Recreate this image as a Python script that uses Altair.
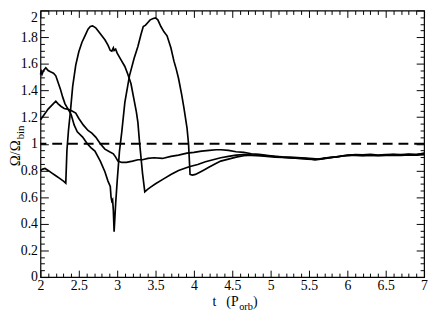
import altair as alt
import pandas as pd

# ---- data ----
T_A = [2.00, 2.03, 2.06, 2.10, 2.15, 2.20, 2.25, 2.30, 2.33, 2.345, 2.365, 2.39, 2.42, 2.46, 2.50, 2.54, 2.58, 2.62, 2.65, 2.68,
       2.72, 2.76, 2.80, 2.84, 2.88, 2.91, 2.93, 2.95, 2.96, 2.98, 3.00, 3.05, 3.10, 3.14, 3.18, 3.22, 3.25, 3.27, 3.29, 3.31,
       3.33, 3.36, 3.40, 3.45, 3.50, 3.60, 3.70, 3.80, 3.90, 3.95, 4.05, 4.15, 4.25, 4.35, 4.45, 4.55, 4.65, 4.75, 4.85, 4.95,
       5.06, 5.15, 5.25, 5.32, 5.40, 5.48, 5.55, 5.60, 5.68, 5.75, 5.83, 5.90, 5.97, 6.05, 6.12, 6.20, 6.30, 6.40, 6.50, 6.60,
       6.70, 6.80, 6.90, 7.00]
V_A = [0.80, 0.81, 0.815, 0.80, 0.78, 0.76, 0.74, 0.72, 0.705, 0.95, 1.10, 1.24, 1.43, 1.59, 1.69, 1.76, 1.81, 1.86, 1.88, 1.885,
       1.87, 1.84, 1.81, 1.78, 1.74, 1.70, 1.695, 1.72, 1.70, 1.71, 1.68, 1.63, 1.58, 1.52, 1.45, 1.33, 1.24, 1.16, 1.02, 0.90,
       0.78, 0.64, 0.66, 0.68, 0.70, 0.735, 0.77, 0.80, 0.82, 0.83, 0.845, 0.865, 0.88, 0.895, 0.905, 0.915, 0.918, 0.915, 0.91, 0.905,
       0.90, 0.897, 0.894, 0.892, 0.888, 0.885, 0.882, 0.884, 0.889, 0.895, 0.90, 0.905, 0.912, 0.917, 0.915, 0.913, 0.915, 0.912, 0.915, 0.918,
       0.915, 0.918, 0.92, 0.925]

T_B = [2.00, 2.01, 2.02, 2.04, 2.07, 2.10, 2.13, 2.17, 2.20, 2.23, 2.26, 2.29, 2.32, 2.36, 2.40, 2.44, 2.48, 2.55, 2.61, 2.66,
       2.71, 2.78, 2.84, 2.88, 2.91, 2.92, 2.93, 2.94, 2.95, 2.96, 2.98, 3.00, 3.03, 3.06, 3.10, 3.16, 3.22, 3.27, 3.31, 3.34,
       3.37, 3.40, 3.43, 3.47, 3.50, 3.53, 3.57, 3.61, 3.65, 3.70, 3.74, 3.77, 3.80, 3.84, 3.87, 3.91, 3.93, 3.95, 3.98, 4.02,
       4.07, 4.12, 4.20, 4.28, 4.35, 4.45, 4.55, 4.65, 4.75, 4.85, 4.95, 5.05, 5.15, 5.25, 5.35, 5.45, 5.52, 5.58, 5.65, 5.72,
       5.80, 5.88, 5.95, 6.03, 6.10, 6.20, 6.30, 6.40, 6.50, 6.60, 6.70, 6.80, 6.90, 7.00]
V_B = [1.52, 1.54, 1.52, 1.55, 1.57, 1.55, 1.54, 1.53, 1.51, 1.46, 1.41, 1.35, 1.30, 1.26, 1.22, 1.14, 1.09, 1.05, 1.00, 0.97,
       0.945, 0.87, 0.79, 0.72, 0.68, 0.60, 0.57, 0.58, 0.50, 0.34, 0.55, 0.72, 0.945, 1.09, 1.31, 1.51, 1.64, 1.73, 1.82, 1.88,
       1.89, 1.91, 1.93, 1.94, 1.945, 1.93, 1.88, 1.84, 1.81, 1.72, 1.62, 1.56, 1.49, 1.37, 1.27, 1.12, 1.00, 0.77, 0.765, 0.77,
       0.785, 0.80, 0.825, 0.85, 0.87, 0.885, 0.90, 0.91, 0.915, 0.913, 0.91, 0.905, 0.90, 0.895, 0.893, 0.89, 0.886, 0.879, 0.885, 0.89,
       0.897, 0.903, 0.908, 0.913, 0.919, 0.917, 0.92, 0.916, 0.918, 0.921, 0.918, 0.922, 0.918, 0.93]

T_C = [2.00, 2.05, 2.10, 2.15, 2.20, 2.23, 2.27, 2.31, 2.35, 2.40, 2.46, 2.50, 2.56, 2.62, 2.67, 2.72, 2.78, 2.84, 2.90, 2.95,
       2.98, 3.01, 3.06, 3.12, 3.20, 3.27, 3.33, 3.40, 3.48, 3.59, 3.70, 3.80, 3.91, 4.00, 4.10, 4.20, 4.29, 4.35, 4.45, 4.55,
       4.65, 4.75, 4.85, 4.95, 5.05, 5.15, 5.25, 5.35, 5.45, 5.55, 5.62, 5.70, 5.78, 5.86, 5.94, 6.02, 6.10, 6.20, 6.30, 6.40,
       6.50, 6.60, 6.70, 6.80, 6.90, 7.00]
V_C = [1.18, 1.22, 1.26, 1.29, 1.32, 1.30, 1.28, 1.265, 1.26, 1.25, 1.23, 1.19, 1.14, 1.10, 1.08, 1.05, 1.00, 0.96, 0.94, 0.925,
       0.90, 0.87, 0.86, 0.86, 0.87, 0.88, 0.88, 0.89, 0.895, 0.89, 0.905, 0.915, 0.93, 0.935, 0.945, 0.95, 0.955, 0.955, 0.95, 0.94,
       0.935, 0.925, 0.92, 0.914, 0.906, 0.902, 0.90, 0.896, 0.892, 0.888, 0.886, 0.892, 0.898, 0.902, 0.91, 0.915, 0.913, 0.911, 0.914, 0.91,
       0.913, 0.915, 0.912, 0.916, 0.914, 0.918]

REF_LEVEL = [1.0]

X_MAJOR = [2, 2.5, 3, 3.5, 4, 4.5, 5, 5.5, 6, 6.5, 7]
X_MINOR = [2.1, 2.2, 2.3, 2.4, 2.6, 2.7, 2.8, 2.9, 3.1, 3.2, 3.3, 3.4, 3.6, 3.7, 3.8, 3.9,
           4.1, 4.2, 4.3, 4.4, 4.6, 4.7, 4.8, 4.9, 5.1, 5.2, 5.3, 5.4, 5.6, 5.7, 5.8, 5.9,
           6.1, 6.2, 6.3, 6.4, 6.6, 6.7, 6.8, 6.9]
Y_MAJOR = [0, 0.2, 0.4, 0.6, 0.8, 1, 1.2, 1.4, 1.6, 1.8, 2]
Y_MINOR = [0.05, 0.1, 0.15, 0.25, 0.3, 0.35, 0.45, 0.5, 0.55, 0.65, 0.7, 0.75, 0.85, 0.9, 0.95,
           1.05, 1.1, 1.15, 1.25, 1.3, 1.35, 1.45, 1.5, 1.55, 1.65, 1.7, 1.75, 1.85, 1.9, 1.95]

rows = []
for name, ts, vs in (("a", T_A, V_A), ("b", T_B, V_B), ("c", T_C, V_C)):
    rows += [{"series": name, "t": t, "v": v} for t, v in zip(ts, vs)]
df = pd.DataFrame(rows)

FONT = "Liberation Serif, Times New Roman, Times, serif"
W, H = 390, 271


def xs():
    return alt.Scale(domain=[2, 7], nice=False, zero=False)


def ys():
    return alt.Scale(domain=[0, 2], nice=False, zero=False)


def ax(orient, values, size, labels):
    kw = dict(orient=orient, values=values, tickSize=size, offset=-size, domain=False, grid=False,
              labels=labels, title=None, ticks=True, tickColor="black", tickWidth=1)
    if labels:
        kw.update(labelFont=FONT, labelFontSize=14, labelColor="black", labelPadding=2 if orient == "bottom" else 3,
                  labelFlush=False, labelOverlap=False, format="~g")
        if orient == "left":
            kw.update(labelBaseline={"condition": {"test": "datum.value == 2", "value": "top"}, "value": "middle"})
    return alt.Axis(**kw)


def layer(xaxis, yaxis, visible):
    mark = alt.Chart(df).mark_line(color="black", strokeWidth=1.7, opacity=1 if visible else 0)
    return mark.encode(
        x=alt.X("t:Q", scale=xs(), axis=xaxis),
        y=alt.Y("v:Q", scale=ys(), axis=yaxis),
        detail="series:N",
    )


lines = layer(ax("bottom", X_MAJOR, 7, True), ax("left", Y_MAJOR, 8, True), True)
mirror_major = layer(ax("top", X_MAJOR, 7, False), ax("right", Y_MAJOR, 8, False), False)
minor1 = layer(ax("bottom", X_MINOR, 4, False), ax("left", Y_MINOR, 4, False), False)
minor2 = layer(ax("top", X_MINOR, 4, False), ax("right", Y_MINOR, 4, False), False)

dashed = alt.Chart(pd.DataFrame({"v": REF_LEVEL})).mark_rule(
    color="black", strokeWidth=2, strokeDash=[10, 6]
).encode(y=alt.Y("v:Q", scale=ys(), axis=None))

one = alt.Data(values=[{}])


def txt(text, x, y, size, **kw):
    return alt.Chart(one).mark_text(text=text, font=FONT, fontSize=size, color="black", **kw).encode(
        x=alt.value(x), y=alt.value(y))


ytitle = txt("Ω/Ω", -21, 132, 15, angle=270, align="right", baseline="alphabetic")
ysub = txt("bin", -17, 131, 11, angle=270, align="left", baseline="alphabetic")
xt1 = txt("t", 175, 300, 14, align="left", baseline="alphabetic")
xt2 = txt("(P", 189, 300, 14, align="left", baseline="alphabetic")
xt3 = txt("orb", 202, 304, 10.5, align="left", baseline="alphabetic")
xt4 = txt(")", 216, 300, 14, align="left", baseline="alphabetic")

chart = alt.layer(lines, mirror_major, minor1, minor2, dashed, ytitle, ysub, xt1, xt2, xt3, xt4).resolve_scale(
    x="independent", y="independent"
).resolve_axis(
    x="independent", y="independent"
).properties(
    width=W, height=H,
    autosize=alt.AutoSizeParams(type="none"),
    padding={"left": 33, "top": 0, "right": 4, "bottom": 34},
    background="white",
).configure_view(stroke="black", strokeWidth=1.2)

chart.save("out.html", embed_options={"renderer": "svg", "actions": False})
